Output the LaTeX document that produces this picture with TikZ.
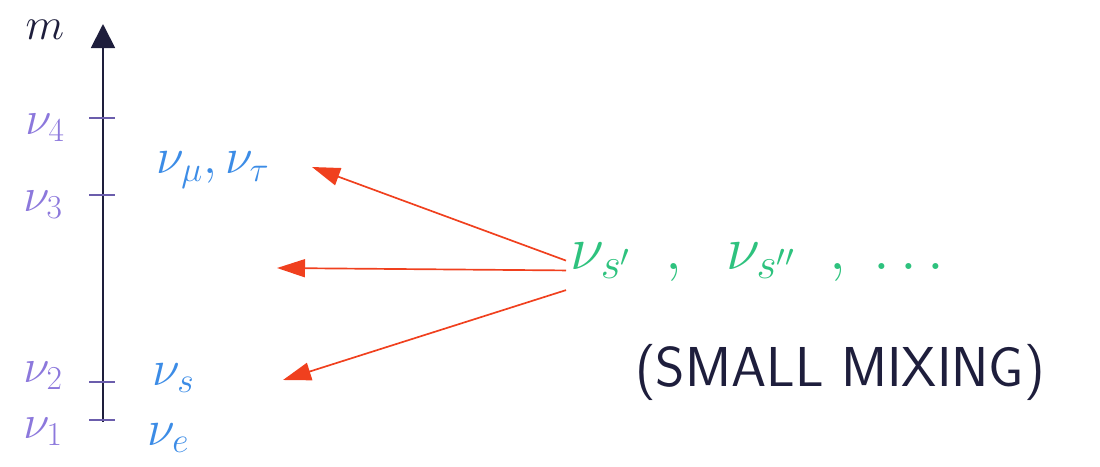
\documentclass[tikz,border=0pt]{standalone}
\usepackage{fix-cm}
\usepackage{amsmath,amssymb}
\usepackage{xcolor}
\usetikzlibrary{positioning, arrows.meta}

\definecolor{massviolet}{HTML}{8C78DC}
\definecolor{flavblue}{HTML}{3C8CE6}
\definecolor{sterilegreen}{HTML}{2EC27E}
\definecolor{mixred}{HTML}{F0401E}
\definecolor{axisink}{HTML}{1E1E3C}

\begin{document}
\begin{tikzpicture}[
    x=0.025cm, y=-0.025cm,
    masslbl/.style={font=\fontsize{34}{38}\selectfont, text=massviolet, anchor=center},
    flavlbl/.style={font=\fontsize{36}{40}\selectfont, text=flavblue, anchor=west},
    tickmark/.style={draw=massviolet!70!axisink, line width=1.3pt},
    arr/.style={-{Triangle[length=7mm, width=4.5mm]}, line width=1.2pt, #1},
]
\useasboundingbox (0,0) rectangle (1100,467);

% mass axis
\coordinate (axbot) at (103,422);
\coordinate (axtop) at (103,24);
\draw[axisink, line width=1.3pt, -{Triangle[length=6mm, width=6mm]}] (axbot) -- (axtop);
\node[font=\fontsize{32}{36}\selectfont, text=axisink] (mlbl) at (45,30) {$m$};

% ticks and mass eigenstates
\foreach \y/\i in {118/4, 195/3, 382/2, 420/1} {
    \draw[tickmark] (89,\y) -- (115,\y);
}
\node[masslbl] (nu4) at (45,128) {$\nu_4$};
\node[masslbl] (nu3) at (43,205) {$\nu_3$};
\node[masslbl] (nu2) at (43,376) {$\nu_2$};
\node[masslbl] (nu1) at (43,432) {$\nu_1$};

% flavour states
\node[flavlbl] (numutau) at (152,170) {$\nu_\mu,\nu_\tau$};
\node[flavlbl] (nus) at (148,378) {$\nu_s$};
\node[flavlbl] (nue) at (143,438) {$\nu_e$};

% sterile states
\node[font=\fontsize{44}{48}\selectfont, text=sterilegreen, anchor=west] (steriles) at (566,262) {$\nu_{s'}\;\;,\;\;\nu_{s''}\;\;,\;\ldots$};
\node[font=\fontsize{40}{44}\selectfont\sffamily, text=axisink] (mixing) at (840,372) {(SMALL MIXING)};

% mixing arrows
\coordinate (tipup) at (312,167);
\coordinate (tipmid) at (277,268);
\coordinate (tiplow) at (283,380);
\draw[arr=mixred] ([yshift=1pt]steriles.west) -- (tipup);
\draw[arr=mixred] ([yshift=-6pt]steriles.west) -- (tipmid);
\draw[arr=mixred] ([yshift=-20pt]steriles.west) -- (tiplow);

\end{tikzpicture}
\end{document}
